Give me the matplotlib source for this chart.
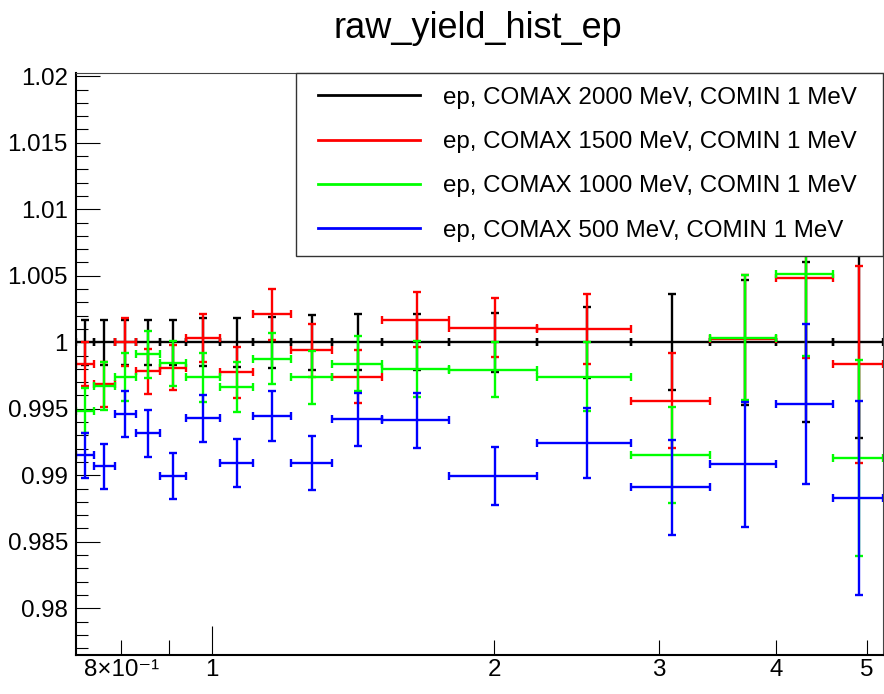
import numpy as np
import matplotlib
matplotlib.use('Agg')
from matplotlib import pyplot as plt
from matplotlib import ticker
from matplotlib.lines import Line2D
from matplotlib.legend_handler import HandlerLine2D

plt.rcParams['font.family'] = ['Liberation Sans', 'DejaVu Sans']

# bin edges (momentum, log axis)
bin_edges = [0.716, 0.748, 0.787, 0.829, 0.880, 0.938, 1.020, 1.107, 1.213,
             1.342, 1.518, 1.792, 2.221, 2.800, 3.400, 4.000, 4.600, 5.200]

labels = ['ep, COMAX 2000 MeV, COMIN 1 MeV',
          'ep, COMAX 1500 MeV, COMIN 1 MeV',
          'ep, COMAX 1000 MeV, COMIN 1 MeV',
          'ep, COMAX 500 MeV, COMIN 1 MeV']

comax2000 = [1.0, 1.0, 1.0, 1.0, 1.0, 1.0, 1.0, 1.0, 1.0,
             1.0, 1.0, 1.0, 1.0, 1.0, 1.0, 1.0, 1.0]
comax2000_err = [0.0017, 0.0017, 0.0017, 0.0017, 0.0017, 0.0018, 0.00185, 0.0019, 0.00205,
                 0.0021, 0.0021, 0.0022, 0.00265, 0.0036, 0.0047, 0.0060, 0.0072]

comax1500 = [0.9984, 0.99685, 1.0000, 0.99782, 0.9981, 1.00032, 0.99773, 1.0021, 0.9994,
             0.9974, 1.0017, 1.0011, 1.00098, 0.99562, 1.00028, 1.00483, 0.99833]
comax1500_err = [0.00165, 0.0017, 0.0018, 0.0017, 0.0017, 0.0018, 0.0019, 0.0019, 0.0020,
                 0.0020, 0.00207, 0.0022, 0.00263, 0.0036, 0.0048, 0.0060, 0.0074]

comax1000 = [0.99487, 0.99672, 0.9974, 0.9991, 0.99842, 0.99737, 0.99665, 0.99878, 0.99737,
             0.9984, 0.99797, 0.99795, 0.99742, 0.99152, 1.00035, 1.0051, 0.9913]
comax1000_err = [0.0017, 0.0018, 0.0018, 0.00175, 0.0017, 0.00185, 0.00188, 0.00195, 0.0020,
                 0.00207, 0.0021, 0.0021, 0.0026, 0.0036, 0.0047, 0.0061, 0.0074]

comax500 = [0.9915, 0.99069, 0.9946, 0.99315, 0.98994, 0.99427, 0.99092, 0.99445, 0.99092,
            0.9942, 0.99412, 0.98994, 0.99242, 0.98909, 0.99084, 0.99537, 0.98829]
comax500_err = [0.0017, 0.0017, 0.00175, 0.00175, 0.0017, 0.0018, 0.0018, 0.0019, 0.0020,
                0.0020, 0.0021, 0.0022, 0.00265, 0.0036, 0.0047, 0.0060, 0.0073]

colors = ['black', '#ff0000', '#00ff00', '#0000ff']

edges = np.array(bin_edges)
centers = (edges[:-1] + edges[1:]) / 2
half_w = (edges[1:] - edges[:-1]) / 2

fig = plt.figure(figsize=(8.84, 6.94), dpi=100)
ax = fig.add_axes([0.086, 0.0562, 0.9129, 0.8393])

series = [(comax2000, comax2000_err), (comax1500, comax1500_err),
          (comax1000, comax1000_err), (comax500, comax500_err)]
for (vals, errs), c in zip(series, colors):
    ax.errorbar(centers, vals, xerr=half_w, yerr=errs, fmt='none',
                ecolor=c, elinewidth=1.7, capsize=2.8, capthick=1.7)

ax.set_xscale('log')
ax.set_xlim(0.716, 5.2)
ax.set_ylim(0.97649, 1.02028)

# x axis ticks like ROOT
ax.xaxis.set_major_locator(ticker.FixedLocator([1]))
ax.xaxis.set_major_formatter(ticker.FixedFormatter(['1']))
ax.xaxis.set_minor_locator(ticker.FixedLocator([0.8, 0.9, 2, 3, 4, 5]))
ax.xaxis.set_minor_formatter(ticker.FixedFormatter(['8×10⁻¹', '', '2', '3', '4', '5']))
ax.tick_params(axis='x', which='major', direction='in', length=20.9, width=0.8,
               labelsize=17.4, pad=3, top=False)
ax.tick_params(axis='x', which='minor', direction='in', length=10.8, width=0.8,
               labelsize=17.4, pad=3, top=False)

ax.yaxis.set_major_locator(ticker.MultipleLocator(0.005))
ax.yaxis.set_minor_locator(ticker.MultipleLocator(0.001))
ax.yaxis.set_major_formatter(ticker.FuncFormatter(lambda v, p: f'{round(v, 4):g}'))
ax.tick_params(axis='y', which='major', direction='in', length=17.3, width=0.8,
               labelsize=17.4, pad=5.8, right=False)
ax.tick_params(axis='y', which='minor', direction='in', length=8.6, width=0.8, right=False)

for s in ['left', 'bottom']:
    ax.spines[s].set_linewidth(1.5)
for s in ['top', 'right']:
    ax.spines[s].set_linewidth(0.8)
    ax.spines[s].set_color('#444444')

# legend
fs = 17.4
fs_px = fs * 100 / 72
handles = [Line2D([], [], color=c, lw=2) for c in colors]
leg = ax.legend(handles, labels, loc='upper left',
                bbox_to_anchor=(0.2726, 0.0, 0.7274, 1.0), mode='expand',
                borderaxespad=0, fontsize=fs, frameon=True, fancybox=False,
                framealpha=1, edgecolor='#333333',
                borderpad=14 / fs_px, labelspacing=0.93,
                handlelength=110 / fs_px, handletextpad=23 / fs_px,
                handler_map={Line2D: HandlerLine2D(xpad=8 / fs_px)})
leg.get_frame().set_linewidth(1.0)

fig.text(0.540, 0.9452, 'raw_yield_hist_ep', fontsize=26, ha='center', va='baseline')

fig.savefig('out.png', dpi=100)
